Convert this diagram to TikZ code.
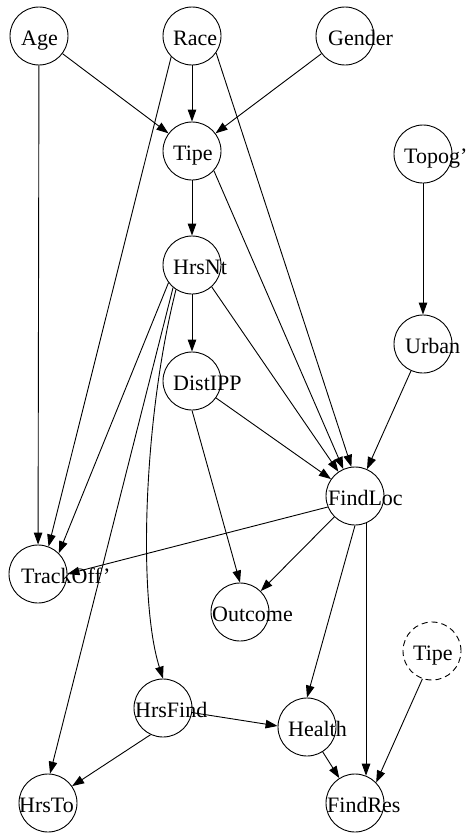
\documentclass[tikz,border=0pt]{standalone}
\usepackage{fontspec}
\setmainfont{Liberation Serif}
\usetikzlibrary{arrows.meta}
\tikzset{
  vnode/.style={circle,draw,line width=0.9pt,minimum size=58pt,inner sep=0pt},
  hidden/.style={vnode,dashed,dash pattern=on 6pt off 4pt},
  vtext/.style={anchor=base west,inner sep=0pt,font=\fontsize{22}{26}\selectfont},
  edge/.style={line width=0.9pt,-{Triangle[length=12pt,width=8.5pt]}},
}
\newcommand{\vnd}[6][vnode]{%
  \node[#1] (#2) at (#3,#4) {};
  \node[vtext] (#2-t) at (#5,#4+9) {#6};}
\begin{document}
\begin{tikzpicture}[x=1pt,y=-1pt]
\useasboundingbox (0,0) rectangle (467,835);
\vnd{age}{39}{36}{21}{Age}
\vnd{race}{192}{36}{173}{Race}
\vnd{gender}{345}{36}{328}{Gender}
\vnd{tipe}{192}{151}{173}{Tipe}
\vnd{topog}{423}{154}{404}{Topog’}
\vnd{hrsnt}{192}{265}{173}{HrsNt}
\vnd{urban}{423}{344}{405}{Urban}
\vnd{distipp}{192}{381}{173}{DistIPP}
\vnd{findloc}{355}{496}{328}{FindLoc}
\vnd{trackoff}{38}{574}{21}{TrackOff’}
\vnd{outcome}{240}{612}{212}{Outcome}
\vnd[hidden]{tipeb}{432}{651}{413}{Tipe}
\vnd{hrsfind}{163}{708}{135}{HrsFind}
\vnd{health}{307}{727}{288}{Health}
\vnd{hrsto}{48}{803}{19}{HrsTo}
\vnd{findres}{355}{803}{327}{FindRes}

\draw[edge] (age) -- (tipe);
\draw[edge] (age) -- (trackoff);
\draw[edge] (race) -- (tipe);
\draw[edge] (gender) -- (tipe);
\draw[edge] (race.-135) -- (trackoff.69);
\draw[edge] (race.-35) -- (findloc.97);
\draw[edge] (tipe) -- (hrsnt);
\draw[edge] (tipe.-42) -- (findloc);
\draw[edge] (topog) -- (urban);
\draw[edge] (hrsnt) -- (distipp);
\draw[edge] (hrsnt.-48) -- (findloc);
\draw[edge] (hrsnt.-143) -- (trackoff.45);
\draw[edge] (hrsnt.-130) -- (hrsto.86);
\draw[edge] (hrsnt.-123) .. controls (143,420) and (138,600) .. (hrsfind.north);
\draw[edge] (urban) -- (findloc);
\draw[edge] (distipp) -- (findloc);
\draw[edge] (distipp.south) -- (outcome.north);
\draw[edge] (findloc.202) -- (trackoff.0);
\draw[edge] (findloc) -- (outcome);
\draw[edge] (findloc.south) -- (health.north);
\draw[edge] (findloc.-68) -- (findres.68);
\draw[edge] (tipeb.-109) -- (findres.44);
\draw[edge] (hrsfind) -- (health.178);
\draw[edge] (hrsfind.-115) -- (hrsto.35);
\draw[edge] (health) -- (findres);
\end{tikzpicture}
\end{document}
